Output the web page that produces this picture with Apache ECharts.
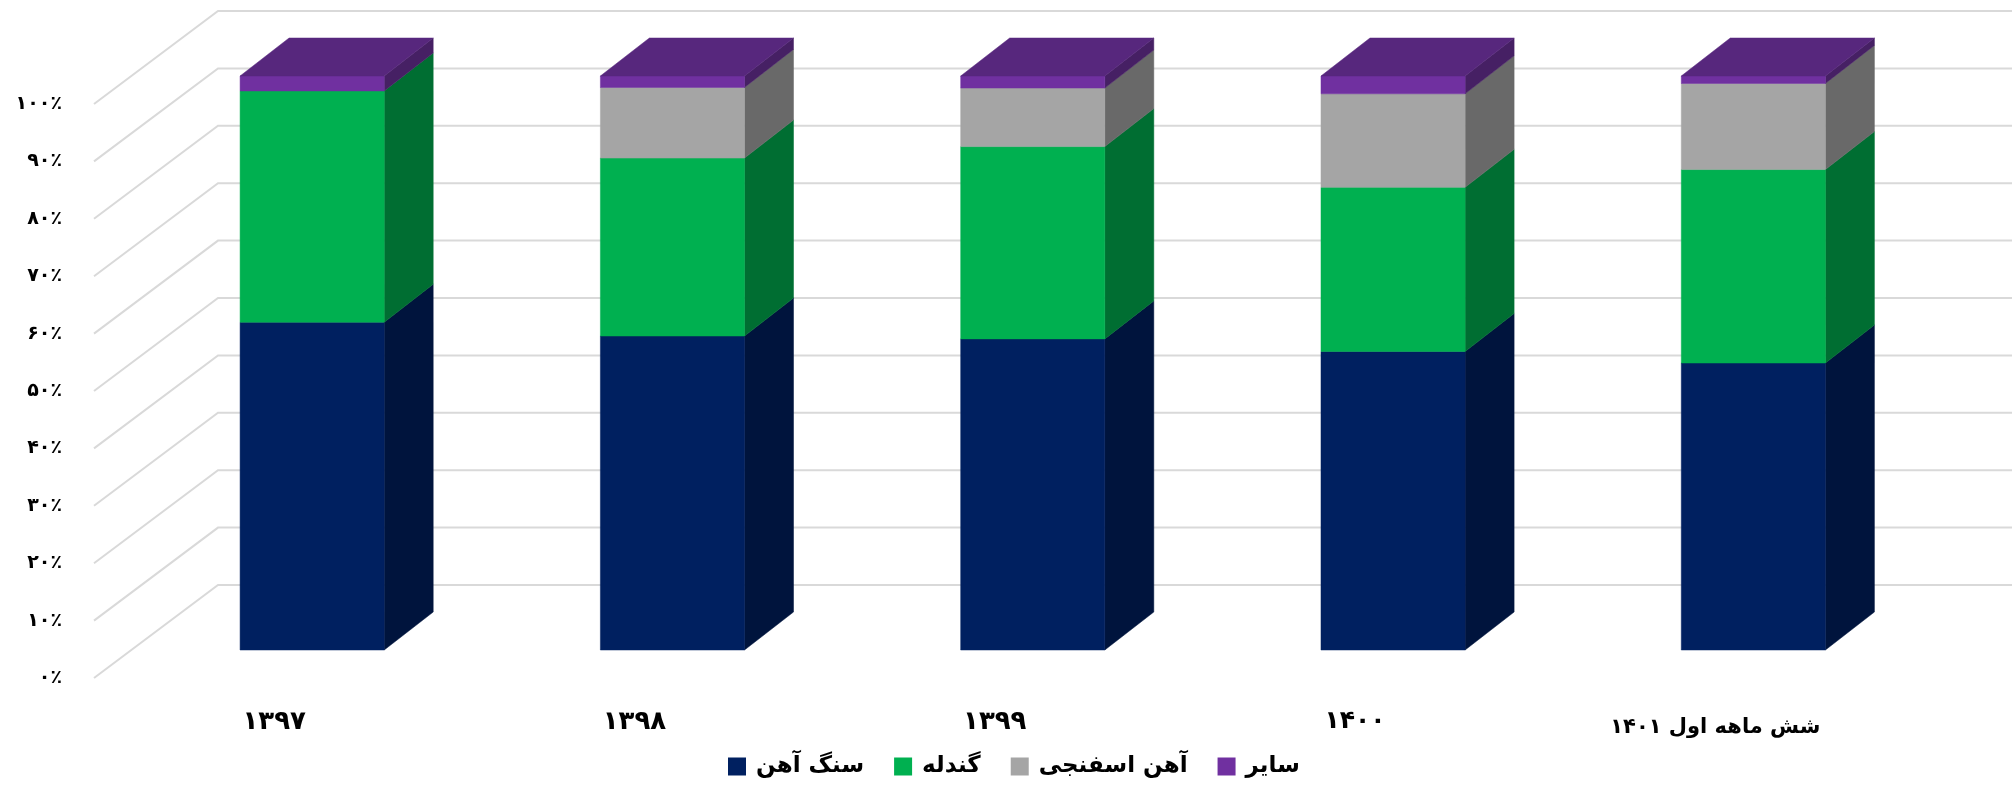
<!DOCTYPE html>
<html><head><meta charset="utf-8">
<style>html,body{margin:0;padding:0;background:#fff}#c{width:2012px;height:786px}</style>
<script src="https://cdn.jsdelivr.net/npm/echarts@6/dist/echarts.min.js"></script>
</head><body><div id="c"></div>
<script>
const categories = ['۱۳۹۷','۱۳۹۸','۱۳۹۹','۱۴۰۰','شش ماهه اول ۱۴۰۱'];
const categoryFontSizes = [26,26,26,25,21];
const categoryTopPadding = [0,0,0,0,8];
const yTickLabels = ['۰٪','۱۰٪','۲۰٪','۳۰٪','۴۰٪','۵۰٪','۶۰٪','۷۰٪','۸۰٪','۹۰٪','۱۰۰٪'];
const yTicks = [0,10,20,30,40,50,60,70,80,90,100];
const ironOre = [57.1,54.7,54.2,52.0,50.0];
const pellet = [40.3,31.0,33.5,28.6,33.7];
const spongeIron = [0,12.3,10.2,16.3,15.0];
const other = [2.6,2.0,2.1,3.1,1.3];
const seriesNames = ['سنگ آهن','گندله','آهن اسفنجی','سایر'];
const seriesValues = [ironOre,pellet,spongeIron,other];
const frontColors = ['#002060','#00B050','#A5A5A5','#7030A0'];
const sideColors = ['#00143D','#006E32','#696969','#462064'];
const topColor = '#57277D';
const FONT = '"DejaVu Sans"';
const BAR_SHIFT = [38,-28], BAR_DEPTH = [49,-38], WALL_DEPTH = [124,-93], BAR_RATIO = 0.4;

const running = categories.map(()=>0);
const stacks = seriesValues.map(vals => vals.map((v,i)=>{const b=running[i];running[i]+=v;return [i,b,b+v];}));

function barRenderer(si){
  return function(params,api){
    const w = api.size([1,0])[0]*BAR_RATIO;
    const c = api.coord([api.value(0),api.value(2)]);
    const b = api.coord([api.value(0),api.value(1)]);
    const l = c[0]-w/2+BAR_SHIFT[0], r = l+w, t = c[1]+BAR_SHIFT[1], u = b[1]+BAR_SHIFT[1];
    const dx = BAR_DEPTH[0], dy = BAR_DEPTH[1];
    if (u-t<=0) return {type:'group',children:[]};
    const kids = [
      {type:'polygon',shape:{points:[[r,t],[r+dx,t+dy],[r+dx,u+dy],[r,u]]},style:{fill:sideColors[si],stroke:sideColors[si],lineWidth:0.5}},
      {type:'rect',shape:{x:l,y:t,width:w,height:u-t},style:{fill:frontColors[si],stroke:frontColors[si],lineWidth:0.5}}
    ];
    if (si===seriesValues.length-1) kids.push({type:'polygon',shape:{points:[[l,t],[l+dx,t+dy],[r+dx,t+dy],[r,t]]},style:{fill:topColor,stroke:topColor,lineWidth:0.5}});
    return {type:'group',children:kids};
  };
}
function wallRenderer(params,api){
  const p = api.coord([0,api.value(0)]);
  const cs = params.coordSys;
  const x0 = cs.x, y = p[1];
  return {type:'polyline',shape:{points:[[x0,y],[x0+WALL_DEPTH[0],y+WALL_DEPTH[1]],[x0+cs.width+WALL_DEPTH[0],y+WALL_DEPTH[1]]]},
    style:{stroke:'#D9D9D9',lineWidth:2,fill:null},silent:true};
}
const chart = echarts.init(document.getElementById('c'),null,{renderer:'canvas'});
chart.setOption({
  animation:false,
  backgroundColor:'#fff',
  grid:{left:94,top:104,width:1801.5,height:574,containLabel:false},
  xAxis:{type:'category',
    data:categories.map((c,i)=>({value:c,textStyle:{fontSize:categoryFontSizes[i],padding:[categoryTopPadding[i],0,0,0]}})),
    axisLine:{show:false},axisTick:{show:false},splitLine:{show:false},
    axisLabel:{margin:31,fontFamily:FONT,fontWeight:'bold',color:'#000',interval:0}},
  yAxis:{type:'value',min:0,max:100,interval:10,axisLine:{show:false},axisTick:{show:false},splitLine:{show:false},
    axisLabel:{margin:32,fontFamily:FONT,fontSize:19,fontWeight:'bold',color:'#000',formatter:v=>yTickLabels[yTicks.indexOf(v)]}},
  legend:{data:seriesNames,left:728,top:755,padding:0,icon:'rect',itemWidth:18,itemHeight:18,itemGap:30,selectedMode:false,
    textStyle:{fontFamily:FONT,fontSize:23,fontWeight:'bold',color:'#000',padding:[0,0,0,5]}},
  series:[
    {type:'custom',name:'grid',z:1,silent:true,renderItem:wallRenderer,data:yTicks.map(v=>[v]),encode:{y:0}},
    ...seriesNames.map((n,i)=>({type:'custom',name:n,z:2+i,renderItem:barRenderer(i),data:stacks[i],
      encode:{x:0,y:[1,2]},itemStyle:{color:frontColors[i]}}))
  ]
});
</script></body></html>
